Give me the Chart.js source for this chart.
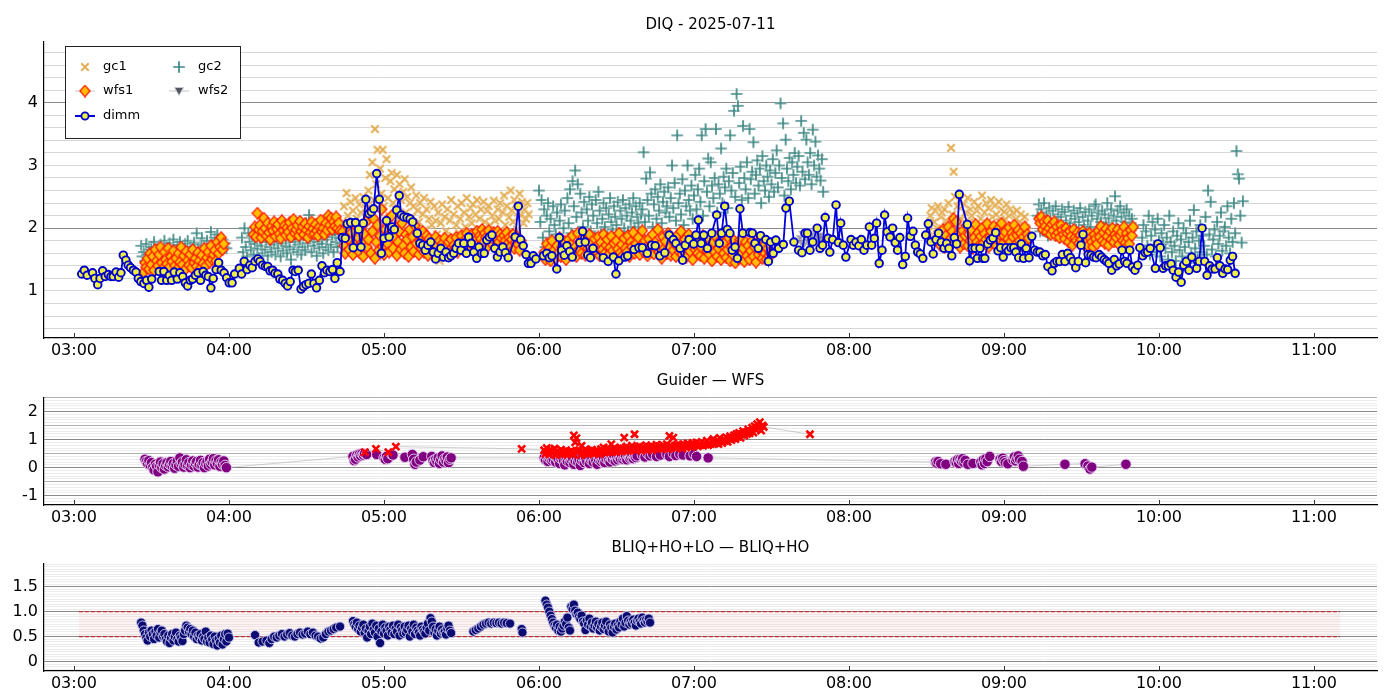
<!DOCTYPE html>
<html><head><meta charset="utf-8">
<script src="https://cdn.jsdelivr.net/npm/chart.js@4.4.1/dist/chart.umd.min.js"></script>
<style>
html,body{margin:0;padding:0;background:#fff;}
#wrap{position:relative;width:1400px;height:700px;overflow:hidden;background:#fff;}
canvas{position:absolute;left:0;}
</style></head><body>
<div id="wrap">
<canvas id="c1" width="1400" height="365" style="top:0px"></canvas>
<canvas id="c2" width="1400" height="167" style="top:365px"></canvas>
<canvas id="c3" width="1400" height="168" style="top:532px"></canvas>
</div>
<script>
// ---------- axis labels ----------
const xTickMinutes = [180,240,300,360,420,480,540,600,660];
const xTickLabels = ['03:00','04:00','05:00','06:00','07:00','08:00','09:00','10:00','11:00'];
const topYLabels = [1,2,3,4];
const midYLabels = [-1,0,1,2];
const botYLabelValues = [0,0.5,1,1.5];
const botYLabels = ['0','0.5','1.0','1.5'];
const titles = ['DIQ - 2025-07-11','Guider \u2014 WFS','BLIQ+HO+LO \u2014 BLIQ+HO'];
const sampleStep = 0.5; // minutes between samples inside dense segments

// ---------- DIQ: dimm (minutes since 00:00, arcsec) ----------
const dimmTimes = [183.0,184.0,185.1,187.2,188.1,189.2,190.1,191.1,192.1,193.3,194.3,195.2,196.3,197.3,198.2,199.1,200.1,201.0,201.9,203.0,204.0,204.9,205.9,207.1,208.1,209.0,210.1,213.0,213.9,214.8,215.9,216.9,217.8,218.8,220.0,221.0,222.1,223.1,224.0,225.0,225.9,227.0,228.0,229.0,230.0,231.0,232.0,233.0,233.9,235.0,236.0,237.0,238.1,239.1,240.1,241.2,242.2,244.0,244.9,245.9,247.0,248.1,249.0,250.1,251.2,252.0,253.0,254.1,255.0,255.9,256.9,257.8,258.9,259.7,260.8,261.8,262.7,263.7,264.8,265.7,266.8,267.9,268.8,269.8,270.9,271.9,272.9,273.9,275.0,276.0,277.0,277.9,279.1,280.1,281.0,281.9,283.0,283.9,285.0,285.8,287.1,288.1,289.0,290.2,291.1,292.0,293.0,294.2,295.1,296.0,297.2,298.2,299.0,300.0,301.0,302.0,303.1,304.0,304.9,305.9,306.7,307.7,308.9,310.1,311.1,312.9,313.9,315.0,316.0,317.0,318.1,319.1,320.0,321.0,322.0,323.0,324.0,325.0,325.9,327.0,327.9,328.9,329.8,330.9,331.9,332.8,333.8,334.8,335.9,336.8,337.8,338.8,339.8,340.8,341.8,342.9,343.9,344.9,346.0,347.0,348.1,350.8,352.0,352.9,353.9,355.0,355.9,356.9,357.8,358.8,361.7,363.0,364.0,365.0,366.9,367.9,368.8,369.8,370.8,371.9,372.9,375.8,376.9,377.9,378.9,379.9,380.9,384.9,386.8,388.8,389.8,390.9,393.3,394.3,396.8,398.7,400.0,401.9,403.6,405.0,406.8,408.7,410.4,412.0,413.0,414.6,415.6,416.6,418.1,419.9,420.8,421.7,422.8,423.8,425.2,426.9,428.8,429.8,430.7,431.9,432.9,433.9,434.8,435.9,436.8,437.8,438.9,441.7,442.6,443.6,444.9,445.8,447.8,448.8,449.7,450.7,451.7,452.8,454.6,455.6,456.9,458.7,460.5,461.8,463.0,463.9,464.9,466.0,467.7,468.8,469.8,470.8,471.9,472.6,473.7,475.0,475.9,476.8,477.8,478.8,480.8,481.7,482.7,483.8,484.8,485.8,486.9,487.9,488.8,489.8,490.7,491.7,492.8,493.8,494.8,495.9,496.9,497.9,498.8,499.7,500.8,501.8,502.7,503.8,504.8,505.7,506.6,507.6,508.6,509.7,510.7,511.7,512.6,513.7,514.7,515.7,516.8,517.8,518.7,519.8,520.8,521.7,522.7,525.8,526.7,527.7,528.8,529.7,530.7,531.8,532.6,533.7,534.7,535.7,536.8,537.7,538.7,539.7,540.8,541.7,542.7,543.8,544.6,545.7,546.7,547.6,548.6,549.7,550.8,551.9,552.9,553.9,555.0,556.0,557.0,558.6,559.5,560.5,561.6,562.6,563.6,564.7,565.7,566.7,567.8,568.8,569.8,570.6,571.6,572.6,573.7,574.7,575.7,576.8,577.8,578.8,579.7,580.6,581.7,582.7,583.6,584.6,585.7,586.7,587.6,588.7,589.7,590.7,591.8,592.6,593.7,594.7,595.6,596.6,598.6,599.6,600.5,601.6,602.6,603.6,604.7,605.5,606.6,607.6,608.6,609.6,610.6,611.6,612.7,614.6,615.6,616.7,617.7,618.6,619.6,620.6,621.7,622.6,623.6,624.7,625.6,626.6,627.6,628.5,629.5];
const dimmValues = [1.27,1.33,1.25,1.29,1.20,1.10,1.20,1.32,1.23,1.26,1.23,1.23,1.30,1.22,1.29,1.57,1.49,1.41,1.37,1.33,1.30,1.20,1.15,1.12,1.17,1.06,1.19,1.31,1.17,1.31,1.17,1.25,1.17,1.30,1.19,1.29,1.23,1.13,1.08,1.17,1.19,1.25,1.29,1.17,1.31,1.25,1.23,1.05,1.20,1.34,1.45,1.33,1.29,1.21,1.13,1.13,1.27,1.36,1.27,1.47,1.34,1.41,1.37,1.47,1.51,1.47,1.41,1.39,1.39,1.32,1.33,1.28,1.27,1.19,1.17,1.12,1.08,1.15,1.33,1.31,1.33,1.03,1.07,1.10,1.12,1.27,1.12,1.05,1.17,1.40,1.29,1.33,1.31,1.34,1.20,1.45,1.31,1.85,1.84,2.07,2.09,1.69,2.09,1.98,1.70,2.08,2.46,2.23,2.26,2.31,2.87,2.46,1.60,1.84,2.12,1.86,2.02,1.98,2.29,2.52,2.21,2.18,2.17,2.15,2.10,1.92,1.76,1.73,1.65,1.73,1.78,1.62,1.51,1.60,1.68,1.54,1.62,1.53,1.56,1.60,1.68,1.76,1.65,1.76,1.60,1.86,1.76,1.62,1.52,1.70,1.60,1.60,1.81,1.86,1.89,1.68,1.54,1.62,1.70,1.61,1.53,1.86,2.35,1.82,1.72,1.58,1.44,1.44,1.56,1.51,1.56,1.60,1.53,1.56,1.35,1.85,1.65,1.57,1.72,1.63,1.54,1.77,1.95,1.78,1.57,1.53,1.68,1.53,1.47,1.54,1.27,1.48,1.54,1.56,1.66,1.69,1.69,1.60,1.73,1.72,1.56,1.61,1.89,1.82,1.76,1.68,1.49,1.73,1.82,1.75,1.89,2.13,1.76,1.89,1.68,1.92,2.21,1.76,1.92,2.35,1.98,1.92,1.65,1.70,1.52,2.31,1.92,1.93,1.92,1.76,1.68,1.88,1.82,1.47,1.78,1.60,1.81,1.68,1.74,2.32,2.43,1.78,1.65,1.61,1.92,1.92,1.65,1.78,2.00,1.68,1.73,2.17,1.84,1.62,1.82,2.37,1.77,2.08,1.73,1.54,1.82,1.73,1.78,1.72,1.82,1.65,1.73,2.02,1.73,1.84,2.08,1.44,1.65,2.21,1.94,1.86,2.00,1.77,1.65,1.85,1.42,1.55,2.16,1.87,1.95,1.73,1.62,1.59,1.52,1.89,2.07,1.78,1.59,1.82,1.92,1.78,1.68,1.76,1.68,1.56,1.85,1.75,2.54,2.06,1.48,1.68,1.68,1.52,1.68,1.52,1.52,1.75,1.81,1.84,1.93,1.64,1.69,1.54,1.69,1.64,1.69,1.69,1.62,1.53,1.75,1.52,1.68,1.53,1.87,1.65,1.62,1.62,1.56,1.58,1.39,1.32,1.44,1.47,1.47,1.58,1.47,1.60,1.53,1.47,1.37,1.47,1.73,1.90,1.45,1.58,1.57,1.54,1.53,1.58,1.54,1.50,1.47,1.44,1.33,1.50,1.40,1.43,1.65,1.47,1.44,1.65,1.38,1.33,1.41,1.69,1.56,1.61,1.62,1.68,1.36,1.75,1.69,1.36,1.40,1.40,1.43,1.33,1.22,1.30,1.14,1.41,1.47,1.33,1.54,1.36,1.47,2.00,1.47,1.25,1.40,1.35,1.35,1.53,1.40,1.28,1.35,1.34,1.49,1.55,1.28];

// ---------- DIQ: gc1 ----------
const gc1Starts = [284, 511];
const gc1Seg1 = [2.10,2.35,1.85,2.56,2.20,1.95,2.42,2.05,2.28,1.78,2.48,2.15,1.90,2.38,2.25,2.02,2.50,1.88,2.32,2.12,
2.60,2.85,2.25,3.05,2.45,3.58,2.70,3.25,2.15,2.95,2.55,3.25,2.35,2.80,3.10,2.48,2.20,2.75,2.88,2.40,
2.62,2.30,2.85,2.15,2.70,2.45,2.05,2.58,2.78,2.25,2.50,1.95,2.40,2.65,2.18,2.35,1.85,2.52,2.28,2.10,
2.40,1.75,2.22,2.48,1.98,2.30,1.62,2.15,2.42,2.05,1.55,2.35,2.12,1.90,2.25,1.48,2.08,2.38,1.80,2.18,
1.95,2.30,1.70,2.12,2.45,1.88,2.22,1.65,2.05,2.35,1.92,2.15,2.40,1.78,2.25,2.02,2.48,1.85,2.18,2.32,
2.08,2.38,1.90,2.22,2.45,1.80,2.15,2.30,1.98,2.42,2.10,1.72,2.28,2.35,2.05,1.88,2.20,2.44,2.12,1.95,
2.30,2.15,2.40,1.85,2.25,2.52,2.05,2.35,1.92,2.18,2.60,2.28,2.10,2.45,2.38,1.98,2.25,2.55,2.20,2.42,2.08,2.30,2.15,2.40,2.22];
const gc1Seg2 = [1.95,2.20,2.32,1.85,2.10,2.28,2.00,2.35,1.90,2.18,2.25,1.98,2.30,2.12,2.05,2.40,1.92,3.28,2.22,2.90,
2.50,2.08,2.35,1.88,2.45,2.15,2.02,2.38,2.25,1.95,2.48,2.10,2.30,2.20,1.90,2.42,2.05,2.28,2.35,2.00,
2.15,2.52,1.93,2.25,2.40,2.08,2.32,1.98,2.45,2.18,2.02,2.36,2.22,1.88,2.42,2.10,2.30,2.00,2.26,2.15,
2.38,1.95,2.20,2.30,2.05,2.25,1.92,2.15,2.28,2.00,2.10,2.22,1.90,2.05,2.18,2.00,1.95];

// ---------- DIQ: gc2 ----------
const gc2Starts = [206, 245, 360, 553, 593.5];
const gc2Seg1 = [1.72,1.55,1.62,1.48,1.75,1.58,1.66,1.45,1.70,1.52,1.78,1.60,1.50,1.68,1.42,1.74,1.57,1.64,1.80,1.55,
1.70,1.48,1.76,1.62,1.58,1.82,1.65,1.52,1.73,1.60,1.78,1.45,1.68,1.56,1.75,1.63,1.80,1.50,1.70,1.66,
1.58,1.77,1.62,1.92,1.68,1.55,1.74,1.84,1.60,1.72,1.66,1.80,1.57,1.70,1.94,1.75,1.62,1.85,1.68,1.90,
1.72,1.78,1.65,1.82,1.70,1.76,1.68];
const gc2Seg2 = [1.85,1.62,2.00,1.70,1.55,1.92,1.78,1.65,1.88,1.58,1.75,1.95,1.68,1.52,1.82,1.72,1.60,1.90,1.66,1.78,
1.56,1.85,1.70,1.62,1.94,1.74,1.58,1.80,1.68,1.88,1.55,1.76,1.64,1.92,1.72,1.60,1.84,1.70,1.50,1.86,
1.66,1.78,1.96,1.62,1.74,1.82,1.58,1.70,1.90,1.65,2.08,1.76,2.21,1.84,1.62,1.80,1.72,1.94,1.56,1.78,
1.68,1.88,1.75,1.60,1.92,1.70,1.82,1.65,1.98,1.74,1.86,1.62,1.90,1.78,1.70,2.02,1.84,1.76,1.95];
const gc2Seg3 = [2.60,2.10,2.45,1.85,2.30,1.70,2.20,2.40,1.95,2.15,1.75,2.35,2.05,1.90,2.25,1.68,2.12,2.38,1.82,2.00,
2.28,1.78,2.48,2.08,2.62,1.92,2.75,2.35,2.92,2.18,2.70,1.88,2.55,2.25,2.02,2.42,1.80,2.30,2.12,2.50,
1.95,2.38,2.20,1.85,2.45,2.08,2.58,2.28,1.92,2.15,2.40,2.02,2.32,1.88,2.22,2.48,2.10,1.98,2.35,2.18,
2.05,2.42,1.92,2.28,2.15,2.45,2.00,2.32,2.20,1.95,2.38,2.12,2.25,2.48,2.02,2.35,2.18,2.08,2.40,2.22,
2.30,3.21,2.10,2.79,2.45,2.20,2.89,2.55,2.02,2.38,2.62,2.15,2.50,2.28,2.70,2.08,2.42,2.58,2.25,2.35,
2.65,2.18,2.48,3.00,2.32,2.72,2.12,3.48,2.40,2.55,2.22,2.78,2.05,2.60,2.35,3.00,2.45,2.28,2.68,2.15,
2.52,2.85,2.30,2.62,2.95,2.42,3.48,2.20,2.75,3.58,2.58,3.11,2.35,3.05,2.68,2.48,2.80,3.58,2.25,2.70,
2.55,3.27,2.40,2.82,2.65,2.95,2.32,2.75,3.48,2.60,2.88,3.87,2.50,4.14,3.95,2.72,2.98,2.45,3.63,2.80,
2.62,3.05,2.48,3.58,2.78,2.90,3.37,2.55,2.85,3.08,2.68,2.95,2.40,3.15,2.75,2.60,3.00,2.82,2.50,2.92,
2.70,3.10,2.58,2.88,3.24,2.65,3.00,3.99,2.80,3.67,2.52,3.41,2.95,2.75,3.12,2.62,3.05,2.85,3.20,2.72,
2.98,3.15,2.68,3.71,2.90,3.52,2.78,3.41,3.05,2.85,3.20,2.70,3.57,3.00,3.38,2.82,3.16,2.95,2.76,3.10,2.58];
const gc2Seg4 = [2.20,2.38,1.95,2.30,2.12,2.40,2.05,2.25,1.88,2.32,2.15,2.02,2.28,1.92,2.35,2.10,2.22,1.85,2.18,2.30,
2.00,2.26,2.12,1.90,2.34,2.08,2.20,1.82,2.28,2.15,1.98,2.24,2.10,2.32,1.88,2.18,2.05,2.26,1.95,2.12,
2.30,2.02,2.20,1.86,2.35,2.38,2.15,2.25,1.92,2.10,2.28,2.00,2.22,2.08,2.40,2.16,1.90,2.30,2.05,2.20,
2.51,2.12,2.28,1.95,2.35,2.18,2.02,2.25,2.10,2.30,1.92,2.20,2.08,2.15,2.00];
const gc2Seg5 = [1.85,2.05,1.65,1.95,1.72,2.20,1.58,1.88,2.10,1.70,1.98,1.62,2.15,1.80,1.55,1.92,1.75,2.05,1.68,1.85,
1.50,2.20,1.78,1.62,1.95,1.72,1.48,1.88,2.08,1.65,1.82,1.55,2.00,1.70,1.92,1.45,1.78,2.12,1.60,1.85,
2.29,1.68,1.95,1.52,1.80,2.05,1.62,1.88,1.72,2.18,1.58,2.60,1.90,2.42,1.66,1.82,1.98,1.55,2.10,1.75,
1.88,2.25,1.64,1.95,2.02,1.72,2.35,1.85,1.60,2.15,1.78,2.40,1.92,3.23,2.86,2.79,2.20,1.77,2.43];

// ---------- DIQ: wfs1 ----------
const wfs1Starts = [207, 249.5, 284, 362, 514.5, 553.5];
const wfs1Seg1 = [1.30,1.45,1.38,1.52,1.35,1.60,1.42,1.55,1.33,1.66,1.48,1.40,1.58,1.70,1.45,1.36,1.62,1.50,1.43,1.68,
1.38,1.55,1.47,1.64,1.40,1.52,1.35,1.60,1.46,1.70,1.42,1.56,1.34,1.63,1.49,1.41,1.58,1.37,1.66,1.45,
1.52,1.39,1.61,1.48,1.36,1.57,1.44,1.68,1.40,1.53,1.62,1.46,1.72,1.50,1.58,1.65,1.48,1.78,1.60,1.70,
1.85,1.66,1.75];
const wfs1Seg2 = [1.90,2.02,1.86,2.24,1.98,2.05,1.85,1.95,2.16,2.00,1.88,2.08,1.93,1.82,2.03,1.96,2.10,1.87,1.99,2.06,
1.91,1.84,2.12,1.97,2.04,1.89,2.01,1.94,2.09,1.86,2.00,2.14,1.92,1.98,2.05,1.88,2.11,1.95,2.02,1.90,
2.07,1.97,1.85,2.03,1.93,2.10,1.99,1.91,2.06,1.96,1.88,2.02,2.13,1.94,2.00,1.90,2.08,1.97,2.20,2.05,
2.16,1.98,2.10,2.03,2.18,2.00,2.08,1.96];
const wfs1Seg3 = [1.95,1.72,1.60,1.88,2.02,1.66,1.80,1.93,1.58,1.75,2.05,1.68,1.85,1.62,1.98,1.77,1.55,1.90,2.10,1.70,
1.82,2.25,1.60,1.95,2.15,1.52,1.78,2.05,1.65,1.88,2.30,1.70,1.58,1.98,2.12,1.75,1.62,1.92,2.20,1.68,
1.85,2.02,1.57,1.78,1.95,1.66,2.08,1.72,1.60,1.90,1.82,1.55,1.98,1.70,1.86,1.63,2.04,1.76,1.92,1.58,
1.80,1.68,1.95,1.62,1.74,1.88,1.57,1.83,1.70,1.65,1.78,1.60,1.86,1.72,1.56,1.80,1.67,1.75,1.62,1.84,
1.70,1.58,1.78,1.65,1.82,1.60,1.73,1.68,1.85,1.62,1.76,1.70,1.88,1.66,1.80,1.74,1.92,1.69,1.84,1.78,
1.90,1.72,1.86,1.80,1.95,1.75,1.88,1.83,1.98,1.77,1.92,1.85,1.70,1.96,1.82,1.88,1.74,1.93,1.80,1.86,
1.95,1.78,1.90,1.84,1.72,1.88,1.80,1.93,1.76,1.85,1.70,1.82,1.90,1.68,1.78,1.86,1.74,1.65,1.80];
const wfs1Seg4 = [1.62,1.50,1.75,1.55,1.68,1.48,1.80,1.58,1.66,1.52,1.72,1.60,1.85,1.55,1.70,1.63,1.78,1.50,1.67,1.82,
1.58,1.74,1.88,1.62,1.70,1.55,1.92,1.66,1.78,1.60,1.85,1.72,1.57,1.80,1.68,1.90,1.63,1.75,1.59,1.83,
1.70,1.62,1.86,1.56,1.77,1.66,1.90,1.60,1.73,1.82,1.58,1.69,1.87,1.64,1.76,1.55,1.80,1.67,1.92,1.61,
1.74,1.57,1.84,1.68,1.62,1.88,1.55,1.78,1.70,1.93,1.60,1.75,1.65,1.85,1.58,1.72,1.96,1.63,1.80,1.69,
1.56,1.83,1.71,1.64,1.90,1.59,1.77,1.67,1.98,1.62,1.74,1.52,1.86,1.68,1.79,1.60,1.92,1.70,1.57,1.84,
1.65,1.76,1.55,1.88,1.70,1.62,1.95,1.58,1.73,1.82,1.54,1.68,1.90,1.63,1.78,1.50,1.85,1.66,1.72,1.60,
1.80,1.56,1.69,1.88,1.52,1.75,1.64,1.83,1.58,1.70,1.48,1.78,1.62,1.86,1.55,1.68,1.80,1.50,1.73,1.60,
1.77,1.53,1.66,1.84,1.48,1.70,1.58,1.80,1.45,1.65,1.75,1.52,1.82,1.60,1.68,1.47,1.78,1.56,1.72,1.50,
1.64,1.80,1.55,1.70,1.46,1.76,1.58,1.66,1.83,1.52,1.72,1.60,1.50,1.68,1.56,1.62,1.58];
const wfs1Seg5 = [1.80,1.92,1.72,1.85,1.98,1.70,1.88,1.76,2.02,1.82,1.74,1.95,2.15,1.86,2.10,1.78,1.92,1.70,1.84,1.96,
1.75,1.88,2.04,1.72,1.90,1.80,1.97,1.68,1.85,2.06,1.78,1.93,1.73,1.87,2.00,1.76,1.91,1.82,2.07,1.70,
1.86,1.95,1.77,2.03,1.84,1.72,1.98,1.80,1.90,2.08,1.75,1.88,1.94,1.70,1.83,2.01,1.78,1.92,1.86,2.05,
1.74,1.89,1.97,1.80,1.92,1.72,1.86,2.02,1.78,1.90,1.84];
const wfs1Seg6 = [2.15,2.08,2.18,1.98,2.10,2.03,1.94,2.12,2.00,1.90,2.06,1.96,2.10,1.88,2.02,1.93,1.85,2.05,1.97,1.90,
1.83,2.00,1.92,1.78,1.95,1.87,1.73,1.98,1.85,1.80,1.93,1.76,1.89,1.82,1.95,1.74,1.88,1.80,1.72,1.92,
1.84,1.78,1.70,1.90,1.83,1.75,1.96,1.86,2.03,1.80,1.93,1.76,1.99,1.87,1.73,1.95,1.82,2.00,1.78,1.90,
1.85,1.98,1.74,1.88,1.94,1.80,2.02,1.77,1.92,1.84,1.75,1.97,1.88,2.02];

// ---------- DIQ: wfs2 ----------
const wfs2Start = 461;
const wfs2Seg = [1.85,1.78,1.92,1.74,1.88,1.95,1.80,1.86,1.72,1.90,1.83,1.77,1.94,1.81,1.87,1.76,1.89,1.84,1.79];

// ---------- Guider (purple) ----------
const guiderSeg1Start = 207.5;
const guiderSeg1 = [0.30,0.22,0.15,0.25,0.08,0.18,0.02,-0.08,0.12,0.05,-0.15,0.10,0.20,0.00,0.14,-0.05,0.08,0.18,0.03,0.12,
0.22,0.06,0.15,-0.02,0.10,0.25,0.05,0.35,0.14,0.20,0.02,0.12,0.28,0.08,0.18,0.00,0.10,0.24,0.05,0.16,
0.22,0.02,0.12,0.26,0.08,0.18,0.00,0.14,0.22,0.06,0.30,0.12,0.20,0.32,0.10,0.25,0.15,0.28,0.05,0.20,
0.12,0.24,0.08,0.00];
const guiderP2Times = [288.0,288.5,289.0,289.5,290.0,290.5,291.0,291.5,292.0,292.5,293.3,297.2,300.0,300.5,301.0,301.5,303.0,303.5,308.1,311.0,311.5,312.0,312.5,313.9,315.2,318.5,319.0,319.5,320.0,320.5,321.0,321.5,322.0,322.5,323.0,323.5,324.0,324.5,325.0,325.5,326.0];
const guiderP2Values = [0.40,0.25,0.30,0.45,0.38,0.48,0.42,0.50,0.45,0.50,0.47,0.47,0.35,0.30,0.40,0.32,0.47,0.45,0.37,0.47,0.30,0.12,0.20,0.27,0.39,0.40,0.25,0.18,0.30,0.22,0.35,0.15,0.28,0.42,0.20,0.32,0.25,0.38,0.18,0.30,0.35];
const guiderSeg3Start = 362;
const guiderSeg3 = [0.35,0.28,0.40,0.22,0.33,0.38,0.25,0.30,0.42,0.20,0.35,0.28,0.15,0.32,0.38,0.24,0.10,0.30,0.22,0.36,
0.18,0.28,0.34,0.12,0.25,0.38,0.20,0.30,0.08,0.26,0.35,0.18,0.30,0.22,0.40,0.15,0.28,0.33,0.20,0.36,
0.25,0.12,0.30,0.38,0.22,0.28,0.35,0.18,0.32,0.40,0.26,0.20,0.34,0.30,0.42,0.24,0.36,0.28,0.38,0.32,
0.44,0.30,0.36,0.40,0.28,0.42,0.34,0.38,0.45,0.32,0.40,0.36,0.42];
const guiderP4Times = [400.0,401.0,402.0,403.0,404.0,405.5,407.0,409.5,410.5,412.0,413.0,414.5,415.8,418.5,420.0,421.0,425.5,513.5,514.0,514.5,515.5,517.5,521.0,521.5,522.0,522.5,523.0,523.5,524.0,524.5,525.0,526.0,528.0,531.0,531.5,532.0,532.5,533.0,533.5,534.5,538.5,539.0,539.5,540.0,540.5,541.5,543.5,544.0,544.5,545.0,545.5,546.0,547.0,547.5,563.6,571.4,572.5,573.3,574.0,587.2];
const guiderP4Values = [0.45,0.38,0.50,0.42,0.48,0.40,0.45,0.47,0.40,0.50,0.43,0.48,0.45,0.42,0.48,0.40,0.35,0.20,0.16,0.22,0.14,0.12,0.22,0.18,0.28,0.15,0.30,0.24,0.32,0.18,0.26,0.12,0.15,0.20,0.10,0.28,0.15,0.32,0.22,0.40,0.30,0.22,0.34,0.25,0.18,0.14,0.28,0.38,0.24,0.32,0.42,0.30,0.22,0.05,0.12,0.14,0.06,-0.05,0.02,0.12];

// ---------- WFS (red) ----------
const wfsEarlyTimes = [292.6,296.9,301.7,304.6,353.3];
const wfsEarlyValues = [0.55,0.67,0.55,0.75,0.67];
const wfsSegStart = 362;
const wfsSeg = [0.62,0.50,0.70,0.55,0.48,0.65,0.58,0.52,0.68,0.45,0.60,0.55,0.50,0.64,0.48,0.58,0.52,0.62,0.46,0.56,
0.50,0.60,0.48,1.15,0.90,1.05,0.55,0.62,0.45,0.78,0.58,0.50,0.66,0.52,0.48,0.60,0.55,0.64,0.50,0.58,
0.52,0.62,0.55,0.48,0.66,0.58,0.72,0.54,0.60,0.68,0.56,0.64,0.84,0.58,0.70,0.62,0.55,0.66,0.60,0.72,
0.58,0.68,1.07,0.62,0.75,0.60,0.70,0.64,0.78,0.66,1.19,0.62,0.72,0.68,0.76,0.60,0.70,0.74,0.66,0.80,
0.64,0.72,0.68,0.78,0.62,0.74,0.70,0.82,0.66,0.76,0.72,0.68,0.80,0.74,0.70,0.84,0.66,1.13,0.76,0.72,
1.07,0.78,0.70,0.82,0.74,0.80,0.76,0.68,0.84,0.78,0.72,0.86,0.76,0.80,0.74,0.88,0.78,0.82,0.90,0.76,
0.84,0.80,0.92,0.78,0.86,0.82,0.96,0.80,0.88,0.84,0.94,1.02,0.86,0.90,0.98,0.84,1.06,0.92,0.88,1.00,
0.96,1.08,0.92,1.04,1.12,0.98,1.06,1.15,1.02,1.20,1.10,1.24,1.06,1.18,1.30,1.14,1.26,1.20,1.36,1.22,
1.30,1.42,1.25,1.48,1.35,1.55,1.40,1.62,1.32,1.50,1.45];
const wfsLateTimes = [464.9];
const wfsLateValues = [1.19];

// ---------- BLIQ+HO+LO / BLIQ+HO ----------
const bliqSeg1Start = 206;
const bliqSeg1 = [0.78,0.72,0.62,0.55,0.48,0.42,0.58,0.50,0.62,0.55,0.45,0.60,0.52,0.65,0.48,0.58,0.62,0.50,0.55,0.45,
0.40,0.52,0.37,0.48,0.55,0.42,0.50,0.58,0.45,0.40,0.52,0.48,0.41,0.55,0.62,0.72,0.68,0.60,0.65,0.55,
0.62,0.50,0.58,0.45,0.52,0.48,0.55,0.42,0.50,0.45,0.60,0.40,0.48,0.38,0.52,0.44,0.35,0.50,0.42,0.32,
0.46,0.38,0.52,0.34,0.45,0.55,0.40,0.56,0.48];
const bliqP2Times = [250.1,251.5,253.0,254.5,255.6,256.5,257.5,258.5,259.5,260.5,261.5,262.5,263.5,264.5,265.5,266.5,267.5,268.5,269.5,270.5,271.5,272.5,273.5,274.5,275.5,276.5,277.5,278.5,279.5,280.5,281.5,283.0];
const bliqP2Values = [0.53,0.38,0.40,0.42,0.37,0.45,0.50,0.48,0.52,0.55,0.50,0.54,0.57,0.52,0.50,0.55,0.58,0.54,0.56,0.60,0.55,0.58,0.52,0.50,0.46,0.48,0.55,0.60,0.62,0.65,0.68,0.70];
const bliqSeg3Start = 288;
const bliqSeg3 = [0.81,0.75,0.70,0.78,0.65,0.72,0.60,0.68,0.74,0.58,0.66,0.48,0.62,0.70,0.55,0.76,0.64,0.58,0.72,0.50,
0.66,0.37,0.60,0.74,0.56,0.68,0.62,0.52,0.70,0.64,0.58,0.72,0.55,0.66,0.60,0.74,0.52,0.68,0.62,0.56,
0.70,0.58,0.64,0.72,0.50,0.66,0.60,0.74,0.55,0.68,0.62,0.58,0.52,0.70,0.64,0.60,0.56,0.68,0.76,0.62,
0.87,0.80,0.70,0.58,0.65,0.52,0.62,0.70,0.56,0.64,0.58,0.60,0.54,0.66,0.72,0.62,0.57];
const bliqP4Times = [334.6,335.5,336.5,337.5,338.5,339.5,340.5,341.5,342.5,343.5,344.5,345.5,346.5,347.5,348.8,353.3,353.6];
const bliqP4Values = [0.60,0.63,0.66,0.70,0.74,0.76,0.78,0.76,0.78,0.77,0.78,0.76,0.78,0.77,0.76,0.65,0.58];
const bliqSeg5Start = 362.5;
const bliqSeg5 = [1.22,1.14,1.08,1.00,0.92,0.85,0.78,0.72,0.68,0.74,0.62,0.70,0.60,0.66,0.72,0.80,0.75,0.88,0.68,0.62,
1.10,1.05,1.14,1.02,0.95,0.98,0.90,0.85,0.92,0.80,0.76,0.63,0.82,0.74,0.86,0.70,0.78,0.66,0.72,0.80,
0.68,0.75,0.62,0.70,0.78,0.65,0.72,0.80,0.66,0.60,0.74,0.68,0.58,0.70,0.76,0.64,0.72,0.68,0.80,0.74,
0.86,0.70,0.78,0.91,0.82,0.74,0.80,0.76,0.84,0.78,0.72,0.82,0.86,0.80,0.76,0.88,0.82,0.78,0.84,0.80,
0.86,0.78];
const bandTimes = [181.9, 670.1];
const bandHigh = 1.0;
const bandLow = 0.5;

// ---------- helpers ----------
function fromSeg(start, vals) { return vals.map((v, i) => ({ x: start + i * sampleStep, y: v })); }
function fromPairs(ts, vs) { return ts.map((t, i) => ({ x: t, y: vs[i] })); }
function gridValues(k0, k1, step, dec) { const a = []; for (let k = k0; k <= k1; k++) a.push(+(k * step).toFixed(dec)); return a; }
function hhmm(v) { const i = xTickMinutes.indexOf(v); return i >= 0 ? xTickLabels[i] : ''; }

Chart.defaults.font.family = "'DejaVu Sans', 'Liberation Sans', sans-serif";
Chart.defaults.color = '#000';

// ---------- marker images ----------
function mk(w, h, fn) { const c = document.createElement('canvas'); c.width = w; c.height = h; fn(c.getContext('2d')); return c; }
const gc1Marker = mk(12, 12, (g) => {
  g.lineCap = 'butt';
  const p = () => { g.beginPath(); g.moveTo(2.3, 2.3); g.lineTo(9.7, 9.7); g.moveTo(9.7, 2.3); g.lineTo(2.3, 9.7); };
  p(); g.strokeStyle = 'rgba(255,255,255,0.55)'; g.lineWidth = 3.4; g.stroke();
  p(); g.strokeStyle = 'rgba(222,160,55,0.85)'; g.lineWidth = 2.0; g.stroke();
});
const gc2Marker = mk(14, 14, (g) => {
  const p = () => { g.beginPath(); g.moveTo(7, 1.2); g.lineTo(7, 12.8); g.moveTo(1.2, 7); g.lineTo(12.8, 7); };
  p(); g.strokeStyle = 'rgba(255,255,255,0.6)'; g.lineWidth = 3.2; g.stroke();
  p(); g.strokeStyle = 'rgba(40,122,118,0.9)'; g.lineWidth = 1.7; g.stroke();
});
const wfs1Marker = mk(12, 13, (g) => {
  g.beginPath(); g.moveTo(6, 0.9); g.lineTo(11.1, 6.5); g.lineTo(6, 12.1); g.lineTo(0.9, 6.5); g.closePath();
  g.fillStyle = '#ffbf00'; g.fill(); g.strokeStyle = '#ff1e00'; g.lineWidth = 1.4; g.stroke();
});

// ---------- common scale builders ----------
function xScale(h) {
  return {
    type: 'linear', min: 168.4, max: 684.4,
    afterBuildTicks: (s) => { s.ticks = xTickMinutes.map(v => ({ value: v })); },
    afterFit: (s) => { s.height = h; },
    grid: { display: false, drawTicks: false },
    border: { display: true, color: '#000', width: 1.2 },
    ticks: { callback: (v) => hhmm(v), font: { size: 16 }, color: '#000', padding: 3, maxRotation: 0, autoSkip: false }
  };
}
function yScale(min, max, ticks, labelFn, colorFn) {
  return {
    type: 'linear', min: min, max: max,
    afterBuildTicks: (s) => { s.ticks = ticks.map(v => ({ value: v })); },
    afterFit: (s) => { s.width = 44; },
    grid: { drawTicks: false, color: (c) => colorFn(c.tick ? c.tick.value : 0), lineWidth: 1 },
    border: { display: true, color: '#000', width: 1.2 },
    ticks: { callback: (v) => labelFn(v), font: { size: 16 }, color: '#000', padding: 6, autoSkip: false }
  };
}
const isMult = (v, m) => Math.abs(v / m - Math.round(v / m)) < 1e-6;

const inTicks = {
  id: 'inTicks',
  afterDraw(chart) {
    const s = chart.scales.x, a = chart.chartArea, g = chart.ctx;
    g.save(); g.strokeStyle = '#333'; g.lineWidth = 1;
    s.ticks.forEach((t) => { const px = Math.round(s.getPixelForValue(t.value)) + 0.5; g.beginPath(); g.moveTo(px, a.bottom); g.lineTo(px, a.bottom - 5); g.stroke(); });
    g.restore();
  }
};

const topLegend = {
  id: 'topLegend',
  afterDatasetsDraw(chart) {
    const g = chart.ctx, a = chart.chartArea;
    const L = Math.round(a.left + 21) + 0.5, T = Math.round(a.top + 5) + 0.5, W = 175, H = 92;
    const r = [T + 20.5, T + 44.5, T + 69.5];
    const m1 = L + 19.5, m2 = L + 113.5, t1 = L + 37.5, t2 = L + 132.5;
    g.save();
    g.fillStyle = '#fff'; g.fillRect(L, T, W, H);
    g.strokeStyle = '#222'; g.lineWidth = 1; g.strokeRect(L, T, W, H);
    g.font = "13px 'DejaVu Sans'"; g.fillStyle = '#000'; g.textBaseline = 'middle';
    g.drawImage(gc1Marker, m1 - 6, r[0] - 6); g.fillStyle = '#000'; g.fillText('gc1', t1, r[0]);
    g.drawImage(gc2Marker, m2 - 7, r[0] - 7); g.fillText('gc2', t2, r[0]);
    g.strokeStyle = 'rgba(190,190,190,0.9)'; g.lineWidth = 1;
    g.beginPath(); g.moveTo(m1 - 10, r[1]); g.lineTo(m1 + 10, r[1]); g.stroke();
    g.drawImage(wfs1Marker, m1 - 6, r[1] - 6.5); g.fillText('wfs1', t1, r[1]);
    g.strokeStyle = 'rgba(190,190,190,0.9)'; g.lineWidth = 1;
    g.beginPath(); g.moveTo(m2 - 10, r[1]); g.lineTo(m2 + 10, r[1]); g.stroke();
    g.beginPath(); g.moveTo(m2 - 4.5, r[1] - 3.5); g.lineTo(m2 + 4.5, r[1] - 3.5); g.lineTo(m2, r[1] + 4.5); g.closePath();
    g.fillStyle = '#555560'; g.fill(); g.strokeStyle = '#c8c8d0'; g.stroke();
    g.fillStyle = '#000'; g.fillText('wfs2', t2, r[1]);
    g.strokeStyle = '#0000dd'; g.lineWidth = 2;
    g.beginPath(); g.moveTo(m1 - 10, r[2]); g.lineTo(m1 + 10, r[2]); g.stroke();
    g.beginPath(); g.arc(m1, r[2], 3.6, 0, Math.PI * 2); g.fillStyle = '#eeee44'; g.fill(); g.lineWidth = 1.8; g.strokeStyle = '#0000cc'; g.stroke();
    g.fillStyle = '#000'; g.fillText('dimm', t1, r[2]);
    g.restore();
  }
};

function titleOpts(text, top, bottom) {
  return { display: true, text: text, color: '#000', fullSize: false, font: { size: 15, weight: 'normal' }, padding: { top: top, bottom: bottom } };
}

// ---------- chart 1: DIQ ----------
const gc1Points = [].concat(fromSeg(gc1Starts[0], gc1Seg1), fromSeg(gc1Starts[1], gc1Seg2));
const gc2Points = [].concat(fromSeg(gc2Starts[0], gc2Seg1), fromSeg(gc2Starts[1], gc2Seg2), fromSeg(gc2Starts[2], gc2Seg3), fromSeg(gc2Starts[3], gc2Seg4), fromSeg(gc2Starts[4], gc2Seg5));
const wfs1Points = [].concat(fromSeg(wfs1Starts[0], wfs1Seg1), fromSeg(wfs1Starts[1], wfs1Seg2), fromSeg(wfs1Starts[2], wfs1Seg3), fromSeg(wfs1Starts[3], wfs1Seg4), fromSeg(wfs1Starts[4], wfs1Seg5), fromSeg(wfs1Starts[5], wfs1Seg6));
const wfs2Points = fromSeg(wfs2Start, wfs2Seg);
const dimmPoints = fromPairs(dimmTimes, dimmValues);

new Chart(document.getElementById('c1'), {
  type: 'scatter',
  data: { datasets: [
    { label: 'dimm', data: dimmPoints, order: 0, showLine: true, borderColor: '#0000dd', borderWidth: 1.8,
      pointRadius: 3.8, pointBackgroundColor: '#eeee44', pointBorderColor: '#0000cc', pointBorderWidth: 1.9 },
    { label: 'wfs2', data: wfs2Points, order: 1, showLine: true, borderColor: 'rgba(190,190,190,0.5)', borderWidth: 1,
      pointStyle: 'triangle', rotation: 180, pointRadius: 4.5, pointBackgroundColor: 'rgba(90,80,110,0.55)', pointBorderColor: 'rgba(200,200,210,0.6)', pointBorderWidth: 1 },
    { label: 'wfs1', data: wfs1Points, order: 2, showLine: true, borderColor: 'rgba(200,200,200,0.45)', borderWidth: 1,
      pointStyle: wfs1Marker, pointRadius: 5 },
    { label: 'gc2', data: gc2Points, order: 3, pointStyle: gc2Marker, pointRadius: 6 },
    { label: 'gc1', data: gc1Points, order: 4, pointStyle: gc1Marker, pointRadius: 6 }
  ]},
  options: {
    responsive: false, animation: false, events: [],
    layout: { padding: { left: 0, right: 23, top: 0, bottom: 0 } },
    scales: {
      x: xScale(27),
      y: yScale(0.25, 4.98, gridValues(2, 24, 0.2, 1), (v) => topYLabels.includes(v) ? String(v) : '',
        (v) => isMult(v, 2) ? '#8a8a8a' : '#d6d6d6')
    },
    plugins: { legend: { display: false }, tooltip: { enabled: false }, title: titleOpts(titles[0], 16.6, 6.6) }
  },
  plugins: [topLegend, inTicks]
});

// ---------- chart 2: Guider / WFS ----------
const guiderPoints = [].concat(fromSeg(guiderSeg1Start, guiderSeg1), fromPairs(guiderP2Times, guiderP2Values), fromSeg(guiderSeg3Start, guiderSeg3), fromPairs(guiderP4Times, guiderP4Values));
const wfsPoints = [].concat(fromPairs(wfsEarlyTimes, wfsEarlyValues), fromSeg(wfsSegStart, wfsSeg), fromPairs(wfsLateTimes, wfsLateValues));

new Chart(document.getElementById('c2'), {
  type: 'scatter',
  data: { datasets: [
    { label: 'WFS', data: wfsPoints, order: 0, showLine: true, borderColor: 'rgba(175,175,175,0.75)', borderWidth: 0.8,
      pointStyle: 'crossRot', pointRadius: 5, pointBorderColor: '#ff0000', pointBorderWidth: 2.6 },
    { label: 'Guider', data: guiderPoints, order: 1, showLine: true, borderColor: 'rgba(175,175,175,0.75)', borderWidth: 0.8,
      pointRadius: 5.2, pointBackgroundColor: '#800080', pointBorderColor: 'rgba(228,205,238,0.95)', pointBorderWidth: 1 }
  ]},
  options: {
    responsive: false, animation: false, events: [],
    layout: { padding: { left: 0, right: 23, top: 0, bottom: 0 } },
    scales: {
      x: xScale(27),
      y: yScale(-1.33, 2.51, gridValues(-13, 25, 0.1, 1), (v) => midYLabels.includes(v) ? String(v) : '',
        (v) => isMult(v, 1) ? '#8a8a8a' : (isMult(v, 0.5) ? '#b2b2b2' : '#ececec'))
    },
    plugins: { legend: { display: false }, tooltip: { enabled: false }, title: titleOpts(titles[1], 7.6, 6.6) }
  },
  plugins: [inTicks]
});

// ---------- chart 3: BLIQ ----------
const bliqPoints = [].concat(fromSeg(bliqSeg1Start, bliqSeg1), fromPairs(bliqP2Times, bliqP2Values), fromSeg(bliqSeg3Start, bliqSeg3), fromPairs(bliqP4Times, bliqP4Values), fromSeg(bliqSeg5Start, bliqSeg5));

new Chart(document.getElementById('c3'), {
  type: 'scatter',
  data: { datasets: [
    { label: 'BLIQ', data: bliqPoints, order: 0,
      pointRadius: 4.6, pointBackgroundColor: '#0b0b72', pointBorderColor: 'rgba(200,200,238,0.95)', pointBorderWidth: 1 },
    { type: 'line', label: 'upper', data: bandTimes.map(t => ({ x: t, y: bandHigh })), order: 2,
      borderColor: '#c0282d', borderWidth: 1.2, borderDash: [4, 2], pointRadius: 0, fill: false },
    { type: 'line', label: 'lower', data: bandTimes.map(t => ({ x: t, y: bandLow })), order: 1,
      borderColor: '#c0282d', borderWidth: 1.2, borderDash: [4, 2], pointRadius: 0, fill: '-1', backgroundColor: 'rgba(240,140,140,0.10)' }
  ]},
  options: {
    responsive: false, animation: false, events: [],
    layout: { padding: { left: 0, right: 23, top: 0, bottom: 0 } },
    scales: {
      x: xScale(29),
      y: yScale(-0.19, 1.97, gridValues(-3, 39, 0.05, 2), (v) => { const i = botYLabelValues.indexOf(v); return i >= 0 ? botYLabels[i] : ''; },
        (v) => isMult(v, 0.5) ? '#8a8a8a' : '#ececec')
    },
    plugins: { legend: { display: false }, tooltip: { enabled: false }, title: titleOpts(titles[2], 7.6, 5.6) }
  },
  plugins: [inTicks]
});
</script>
</body></html>
